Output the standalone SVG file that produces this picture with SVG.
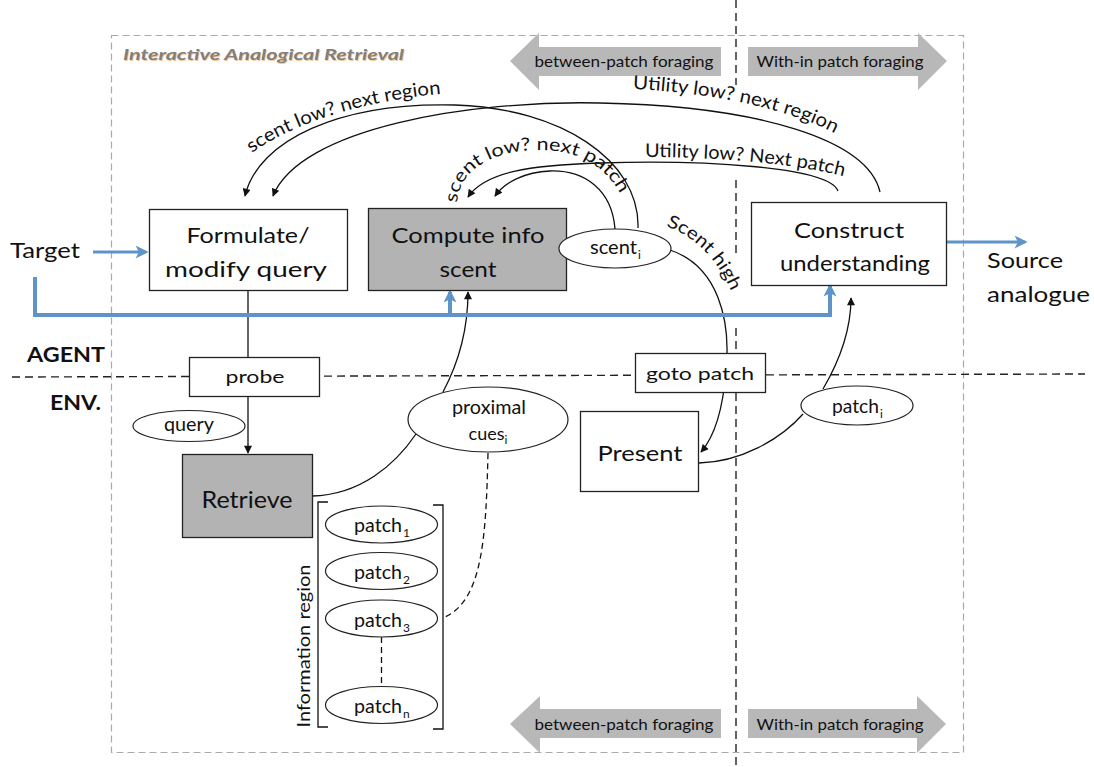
<svg xmlns="http://www.w3.org/2000/svg" width="1094" height="767" viewBox="0 0 1094 767">
<style>
.t{font-family:Lato,"Liberation Sans",sans-serif;fill:#111}
.box{fill:#fff;stroke:#222;stroke-width:1.3}
.gbox{fill:#b3b3b3;stroke:#222;stroke-width:1.3}
.ell{fill:#fff;stroke:#222;stroke-width:1.2}
.conn{fill:none;stroke:#111;stroke-width:1.3}
.dconn{fill:none;stroke:#111;stroke-width:1.3;stroke-dasharray:6 4}
.blue{fill:none;stroke:#5f94c8;stroke-width:4}
.blue2{fill:none;stroke:#5f94c8;stroke-width:3}
.gd{fill:none;stroke:#aaa;stroke-width:1.2;stroke-dasharray:7 4}
.kd{fill:none;stroke:#222;stroke-width:1.4;stroke-dasharray:8 5}
.barrow{fill:#b8b8b8}
.sub{font-size:12px}
</style>
<defs>
<marker id="ah" viewBox="0 0 10 10" refX="9" refY="5" markerWidth="9" markerHeight="8" markerUnits="userSpaceOnUse" orient="auto"><path d="M0,0 L10,5 L0,10 z" fill="#111"/></marker>
<marker id="bh" viewBox="0 0 10 10" refX="8" refY="5" markerWidth="14" markerHeight="13" markerUnits="userSpaceOnUse" orient="auto"><path d="M0,0 L10,5 L0,10 L2.5,5 z" fill="#5f94c8"/></marker>
<path id="pRegion" d="M252,153 C300,118 380,98 452,93"/>
<path id="pPatch" d="M457,203 C460,165 500,150 540,150 C585,150 615,172 628,212"/>
<path id="pUReg" d="M633,89 C700,92 785,106 838,135"/>
<path id="pUPatch" d="M645,157 C720,157 800,164 850,178"/>
<path id="pHigh" d="M666,226 C698,238 720,262 735,300"/>
</defs>

<!-- frame and separators -->
<g id="frame">
<rect class="gd" x="111.5" y="35.5" width="852" height="717"/>
<path class="kd" d="M736,0 V85 M736,180 V257 M736,328 V767"/>
<path class="kd" d="M12,377 L1085,374"/>
<text x="124" y="61" class="t" font-size="16" font-weight="bold" font-style="italic" style="fill:#f2b36b" textLength="281" lengthAdjust="spacingAndGlyphs" opacity="0.7">Interactive Analogical Retrieval</text>
<text x="123" y="60" class="t" font-size="16" font-weight="bold" font-style="italic" style="fill:#7f7f7f" textLength="281" lengthAdjust="spacingAndGlyphs">Interactive Analogical Retrieval</text>
<text x="105" y="362" class="t" font-size="21" font-weight="bold" text-anchor="end" textLength="78" lengthAdjust="spacingAndGlyphs">AGENT</text>
<text x="101" y="410" class="t" font-size="21" font-weight="bold" text-anchor="end" textLength="51" lengthAdjust="spacingAndGlyphs">ENV.</text>
</g>

<!-- block arrows -->
<g id="foraging-top">
<polygon class="barrow" points="510,61 539,33 539,47 721,47 721,76 539,76 539,90"/>
<polygon class="barrow" points="748,47 918,47 918,33 947,61 918,90 918,76 748,76"/>
<text x="624" y="67" class="t" font-size="15" text-anchor="middle" textLength="179" lengthAdjust="spacingAndGlyphs">between-patch foraging</text>
<text x="840" y="67" class="t" font-size="15" text-anchor="middle" textLength="167" lengthAdjust="spacingAndGlyphs">With-in patch foraging</text>
</g>
<g id="foraging-bottom">
<polygon class="barrow" points="510,724 540,696 540,709 721,709 721,738 540,738 540,753"/>
<polygon class="barrow" points="748,709 917,709 917,696 946,724 917,753 917,738 748,738"/>
<text x="624" y="730" class="t" font-size="15" text-anchor="middle" textLength="179" lengthAdjust="spacingAndGlyphs">between-patch foraging</text>
<text x="840" y="730" class="t" font-size="15" text-anchor="middle" textLength="167" lengthAdjust="spacingAndGlyphs">With-in patch foraging</text>
</g>

<!-- connectors -->
<g id="connectors">
<path class="conn" d="M638,228 C640,160 560,108 455,105 C340,102 258,140 245,196" marker-end="url(#ah)"/>
<path class="conn" d="M880,192 C868,140 760,106 600,103 C470,100 300,128 273,196" marker-end="url(#ah)"/>
<path class="conn" d="M615,229 C612,190 585,170 550,171 C525,172 505,182 495,196" marker-end="url(#ah)"/>
<path class="conn" d="M838,191 C828,166 700,160 600,163 C530,165 485,172 468,197" marker-end="url(#ah)"/>
<path class="conn" d="M670,250 C718,266 731,320 726,370 C723,410 715,436 701,452" marker-end="url(#ah)"/>
<path class="conn" d="M699,463 C740,462 780,440 803,414"/>
<path class="conn" d="M823,389 C840,360 851,330 851,298" marker-end="url(#ah)"/>
<path class="conn" d="M248,291 V453" marker-end="url(#ah)"/>
<path class="conn" d="M312,496 C360,495 395,465 416,434"/>
<path class="conn" d="M443,392 C460,360 468,325 468,292" marker-end="url(#ah)"/>
<path class="dconn" d="M488,453 C486,540 482,600 445,617"/>
<path class="dconn" d="M381.5,637 V686"/>
<path class="blue2" d="M93,252 H146" marker-end="url(#bh)"/>
<path class="blue" d="M35,277 V315 H830 V288"/>
<path class="blue" d="M450,315 V293"/>
<path class="blue" d="M830,300 V286" marker-end="url(#bh)"/>
<path class="blue" d="M450,305 V292" marker-end="url(#bh)"/>
<path class="blue2" d="M947,242 H1025" marker-end="url(#bh)"/>
<text class="t" font-size="19"><textPath href="#pRegion" textLength="200" lengthAdjust="spacingAndGlyphs">scent low? next region</textPath></text>
<text class="t" font-size="18"><textPath href="#pPatch" textLength="205" lengthAdjust="spacingAndGlyphs">scent low? next patch</textPath></text>
<text class="t" font-size="19"><textPath href="#pUReg" textLength="208" lengthAdjust="spacingAndGlyphs">Utility low? next  region</textPath></text>
<text class="t" font-size="19"><textPath href="#pUPatch" textLength="200" lengthAdjust="spacingAndGlyphs">Utility low? Next patch</textPath></text>
<text class="t" font-size="18"><textPath href="#pHigh" textLength="95" lengthAdjust="spacingAndGlyphs">Scent high</textPath></text>
</g>

<!-- nodes -->
<g id="target"><text x="10" y="258" class="t" font-size="22" textLength="70" lengthAdjust="spacingAndGlyphs">Target</text></g>
<g id="formulate">
<rect class="box" x="149.5" y="209.5" width="198" height="81"/>
<text x="248" y="243" class="t" font-size="22" text-anchor="middle" textLength="123" lengthAdjust="spacingAndGlyphs">Formulate/</text>
<text x="246" y="277" class="t" font-size="22" text-anchor="middle" textLength="162" lengthAdjust="spacingAndGlyphs">modify query</text>
</g>
<g id="compute">
<rect class="gbox" x="368.5" y="208.5" width="198" height="82"/>
<text x="468" y="243" class="t" font-size="22" text-anchor="middle" textLength="153" lengthAdjust="spacingAndGlyphs">Compute info</text>
<text x="468" y="277" class="t" font-size="22" text-anchor="middle" textLength="57" lengthAdjust="spacingAndGlyphs">scent</text>
</g>
<g id="scent-i">
<ellipse class="ell" cx="615" cy="248.5" rx="56" ry="19.5"/>
<text x="590" y="254" class="t" font-size="19" textLength="47" lengthAdjust="spacingAndGlyphs">scent</text>
<text x="638" y="259" class="t sub">i</text>
</g>
<g id="construct">
<rect class="box" x="751.5" y="202.5" width="195" height="83"/>
<text x="849" y="238" class="t" font-size="22" text-anchor="middle" textLength="110" lengthAdjust="spacingAndGlyphs">Construct</text>
<text x="855" y="271" class="t" font-size="22" text-anchor="middle" textLength="150" lengthAdjust="spacingAndGlyphs">understanding</text>
</g>
<g id="source">
<text x="987" y="268" class="t" font-size="22" textLength="76" lengthAdjust="spacingAndGlyphs">Source</text>
<text x="987" y="302" class="t" font-size="22" textLength="103" lengthAdjust="spacingAndGlyphs">analogue</text>
</g>
<g id="probe">
<rect class="box" x="189.5" y="357.5" width="130" height="39"/>
<text x="255" y="383" class="t" font-size="18" text-anchor="middle" textLength="59" lengthAdjust="spacingAndGlyphs">probe</text>
</g>
<g id="goto">
<rect class="box" x="635.5" y="353.5" width="130" height="39"/>
<text x="700" y="380" class="t" font-size="18" text-anchor="middle" textLength="108" lengthAdjust="spacingAndGlyphs">goto patch</text>
</g>
<g id="query">
<ellipse class="ell" cx="189" cy="426" rx="56" ry="15.5"/>
<text x="189" y="431" class="t" font-size="19" text-anchor="middle" textLength="50" lengthAdjust="spacingAndGlyphs">query</text>
</g>
<g id="retrieve">
<rect class="gbox" x="182.5" y="454.5" width="130" height="83"/>
<text x="247" y="508" class="t" font-size="24" text-anchor="middle" textLength="91" lengthAdjust="spacingAndGlyphs">Retrieve</text>
</g>
<g id="proximal">
<ellipse class="ell" cx="488" cy="419.5" rx="80" ry="32.5"/>
<text x="489" y="414" class="t" font-size="19" text-anchor="middle" textLength="74" lengthAdjust="spacingAndGlyphs">proximal</text>
<text x="488" y="440" class="t" font-size="18" text-anchor="middle">cues<tspan class="sub" dy="4">i</tspan></text>
</g>
<g id="present">
<rect class="box" x="580.5" y="411.5" width="118" height="80"/>
<text x="640" y="461" class="t" font-size="22" text-anchor="middle" textLength="85" lengthAdjust="spacingAndGlyphs">Present</text>
</g>
<g id="patch-i">
<ellipse class="ell" cx="857" cy="405.5" rx="56" ry="19.5"/>
<text x="832" y="413" class="t" font-size="19" textLength="47" lengthAdjust="spacingAndGlyphs">patch</text>
<text x="880" y="418" class="t sub">i</text>
</g>
<g id="region">
<path class="conn" d="M328,502 H318 V727 H328 M433,505 H443 V729 H433"/>
<text transform="translate(310,646) rotate(-90)" class="t" font-size="18" text-anchor="middle" textLength="163" lengthAdjust="spacingAndGlyphs">Information region</text>
</g>
<g id="patch1">
<ellipse class="ell" cx="381.5" cy="524.5" rx="56" ry="18.5"/>
<text x="354" y="532" class="t" font-size="19" textLength="48" lengthAdjust="spacingAndGlyphs">patch</text>
<text x="403" y="537" class="t sub">1</text>
</g>
<g id="patch2">
<ellipse class="ell" cx="381.5" cy="571" rx="56" ry="18.5"/>
<text x="354" y="579" class="t" font-size="19" textLength="48" lengthAdjust="spacingAndGlyphs">patch</text>
<text x="403" y="584" class="t sub">2</text>
</g>
<g id="patch3">
<ellipse class="ell" cx="381.5" cy="618.5" rx="56" ry="18.5"/>
<text x="354" y="627" class="t" font-size="19" textLength="48" lengthAdjust="spacingAndGlyphs">patch</text>
<text x="403" y="632" class="t sub">3</text>
</g>
<g id="patchn">
<ellipse class="ell" cx="381.5" cy="705" rx="56" ry="18.5"/>
<text x="354" y="713" class="t" font-size="19" textLength="48" lengthAdjust="spacingAndGlyphs">patch</text>
<text x="403" y="718" class="t sub">n</text>
</g>
</svg>
